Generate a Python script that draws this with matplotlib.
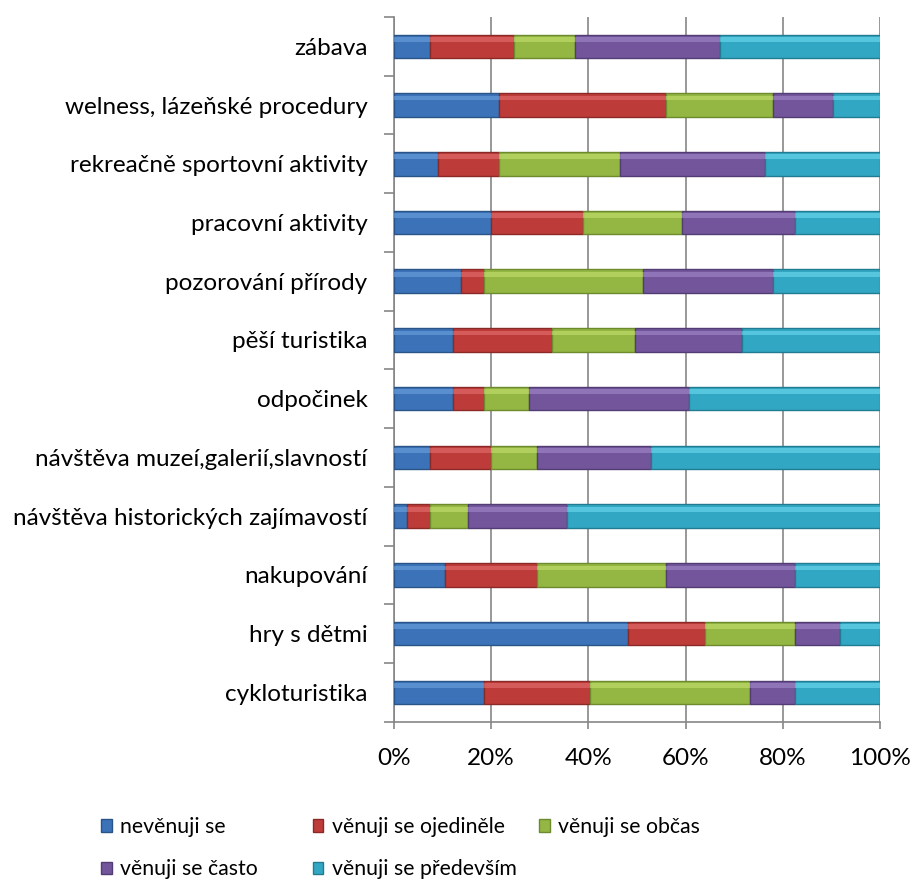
import matplotlib.pyplot as plt
import numpy as np
from matplotlib.ticker import FixedLocator, PercentFormatter

plt.rcParams['font.family'] = ['Lato', 'DejaVu Sans']

# kategorie odspodu nahoru (jako v Excelu)
categories = ['cykloturistika', 'hry s dětmi', 'nakupování',
              'návštěva historických zajímavostí',
              'návštěva muzeí,galerií,slavností', 'odpočinek',
              'pěší turistika', 'pozorování přírody', 'pracovní aktivity',
              'rekreačně sportovní aktivity', 'welness, lázeňské procedury',
              'zábava']

series_names = ['nevěnuji se', 'věnuji se ojediněle', 'věnuji se občas',
                'věnuji se často', 'věnuji se především']

nevenuji = [18.5, 48.1, 10.5, 2.7, 7.4, 12.2, 12.2, 13.8, 19.9, 9.0, 21.6, 7.4]
ojedinele = [21.8, 15.8, 18.9, 4.7, 12.5, 6.4, 20.3, 4.7, 18.9, 12.6, 34.3, 17.3]
obcas = [32.9, 18.7, 26.5, 7.8, 9.5, 9.1, 17.0, 32.7, 20.4, 24.8, 22.0, 12.5]
casto = [9.4, 9.2, 26.7, 20.4, 23.4, 33.0, 22.1, 26.8, 23.4, 29.9, 12.5, 29.8]
predevsim = [17.4, 8.2, 17.4, 64.4, 47.2, 39.3, 28.4, 22.0, 17.4, 23.7, 9.6, 33.0]

colors = ['#3b72b8', '#bd3b39', '#94b743', '#72559b', '#32a7c3']
edges = ['#2a5488', '#8a2a28', '#6d8a2e', '#523d73', '#217c91']
lights = ['#6fa3e0', '#e47270', '#c4e070', '#a489cc', '#6fdcf2']

data = np.array([nevenuji, ojedinele, obcas, casto, predevsim])
data = data / data.sum(axis=0) * 100

fs = 17.5
fs_leg = 15.3

fig = plt.figure(figsize=(9.12, 8.9), dpi=100)
ax = fig.add_axes([0.432, 0.189, 0.533, 0.792])

y = np.arange(len(categories))
left = np.zeros(len(categories))
handles = []
for i in range(5):
    h = ax.barh(y, data[i], left=left, height=0.4, color=colors[i],
                edgecolor=edges[i], linewidth=1.0, zorder=3, label=series_names[i])
    # svetly pruh nahore - naznak zkoseni
    ax.barh(y + 0.12, data[i], left=left, height=0.08, color=lights[i],
            linewidth=0, zorder=4, alpha=0.6)
    handles.append(h)
    left += data[i]

ax.set_xlim(0, 100)
ax.set_ylim(-0.5, len(categories) - 0.5)
ax.xaxis.set_major_locator(FixedLocator([0, 20, 40, 60, 80, 100]))
ax.xaxis.set_major_formatter(PercentFormatter(decimals=0))
ax.set_yticks(y)
ax.set_yticklabels(categories)
ax.yaxis.set_minor_locator(FixedLocator(np.arange(-0.5, len(categories), 1.0)))
ax.tick_params(axis='y', which='major', length=0, pad=19, labelsize=fs, colors='black')
ax.tick_params(axis='y', which='minor', length=7, width=1.2, color='#868686', direction='out')
ax.tick_params(axis='x', which='major', length=5, width=1.2, color='#868686',
               labelsize=fs, pad=14)

ax.grid(axis='x', color='#868686', linewidth=1.2, zorder=0)
for s in ['top', 'right']:
    ax.spines[s].set_visible(False)
for s in ['left', 'bottom']:
    ax.spines[s].set_color('#868686')
    ax.spines[s].set_linewidth(1.2)

# legenda ve trech sloupcich
cols = [[0, 3], [1, 4], [2]]
xs = [0.111, 0.343, 0.591]
for c, x in zip(cols, xs):
    fig.legend([handles[k] for k in c], [series_names[k] for k in c],
               loc='upper left', bbox_to_anchor=(x, 0.082), frameon=False,
               fontsize=fs_leg, handlelength=0.5, handleheight=0.5,
               handletextpad=0.4, labelspacing=1.05, borderaxespad=0, borderpad=0)

fig.savefig('out.png', dpi=100)
